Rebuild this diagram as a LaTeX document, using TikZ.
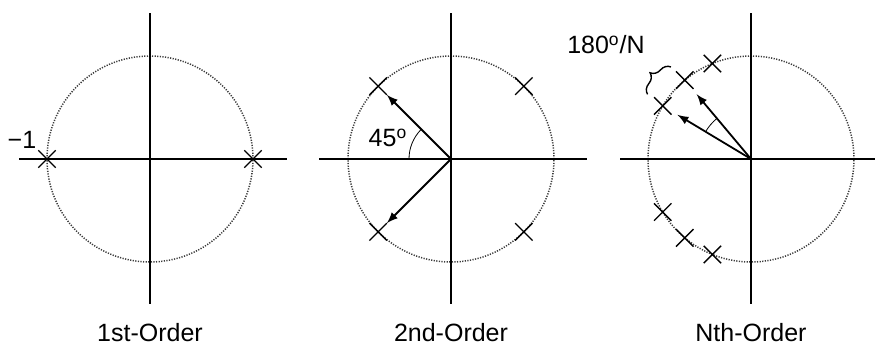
\documentclass[tikz,border=0pt]{standalone}
\usepackage{fontspec}
\setmainfont{Liberation Sans}
\usetikzlibrary{shapes.misc,decorations.pathreplacing}
\definecolor{cDot}{RGB}{60,60,60}
\tikzset{
  axis/.style={line width=0.7pt},
  unitcircle/.style={cDot,line width=0.75pt,dash pattern=on 0.6pt off 0.7pt},
  pole/.style={cross out,draw,line width=0.7pt,minimum size=8pt,inner sep=0pt},
  vec/.style={-latex,line width=0.9pt},
  lbl/.style={font=\fontsize{12.5}{15}\selectfont}
}

\begin{document}
\begin{tikzpicture}[x=0.5pt,y=0.5pt]
\useasboundingbox (0,0) rectangle (875,347);
\coordinate (o1) at (150,188);
\coordinate (o2) at (451,188);
\coordinate (o3) at (751,188);
% 1st order
\draw[unitcircle] (o1) circle[radius=103];
\draw[axis] (19,188) -- (287,188);
\draw[axis] (150,43) -- (150,334);
\node[pole] (p1a) at ([shift={(180:103)}]o1) {};
\node[pole] (p1b) at ([shift={(0:103)}]o1) {};
\node[lbl] (m1) at (22,207) {−1};
\node[lbl] (t1) at (150,14) {1st-Order};
% 2nd order
\draw[unitcircle] (o2) circle[radius=103];
\draw[axis] (319,188) -- (587,188);
\draw[axis] (451,43) -- (451,334);
\node[pole] (p2a) at ([shift={(45:103)}]o2) {};
\node[pole] (p2b) at ([shift={(135:103)}]o2) {};
\node[pole] (p2c) at ([shift={(225:103)}]o2) {};
\node[pole] (p2d) at ([shift={(315:103)}]o2) {};
\draw[vec] (o2) -- (p2b);
\draw[vec] (o2) -- (p2c);
\draw ([shift={(135:42)}]o2) arc[start angle=135,end angle=180,radius=42];
\node[lbl] (a2) at (388,209) {45\textsuperscript{o}};
\node[lbl] (t2) at (451,14) {2nd-Order};
% Nth order
\draw[unitcircle] (o3) circle[radius=103];
\draw[axis] (620,188) -- (875,188);
\draw[axis] (751,43) -- (751,334);
\node[pole] (p3a) at ([shift={(112:103)}]o3) {};
\node[pole] (p3b) at ([shift={(130:103)}]o3) {};
\node[pole] (p3c) at ([shift={(149:103)}]o3) {};
\node[pole] (p3d) at ([shift={(211:103)}]o3) {};
\node[pole] (p3e) at ([shift={(230:103)}]o3) {};
\node[pole] (p3f) at ([shift={(248:103)}]o3) {};
\draw[vec,shorten >=3.5pt] (o3) -- (p3b);
\draw[vec,shorten >=3.5pt] (o3) -- (p3c);
\draw ([shift={(130:53)}]o3) arc[start angle=130,end angle=149,radius=53];
\draw[line width=0.7pt,decorate,decoration={brace,amplitude=6pt}]
  ([shift={(148:122)}]o3) -- ([shift={(131:122)}]o3);
\node[lbl] (n3) at (606,302) {180\textsuperscript{o}/N};
\node[lbl] (t3) at (751,14) {Nth-Order};
\end{tikzpicture}
\end{document}
